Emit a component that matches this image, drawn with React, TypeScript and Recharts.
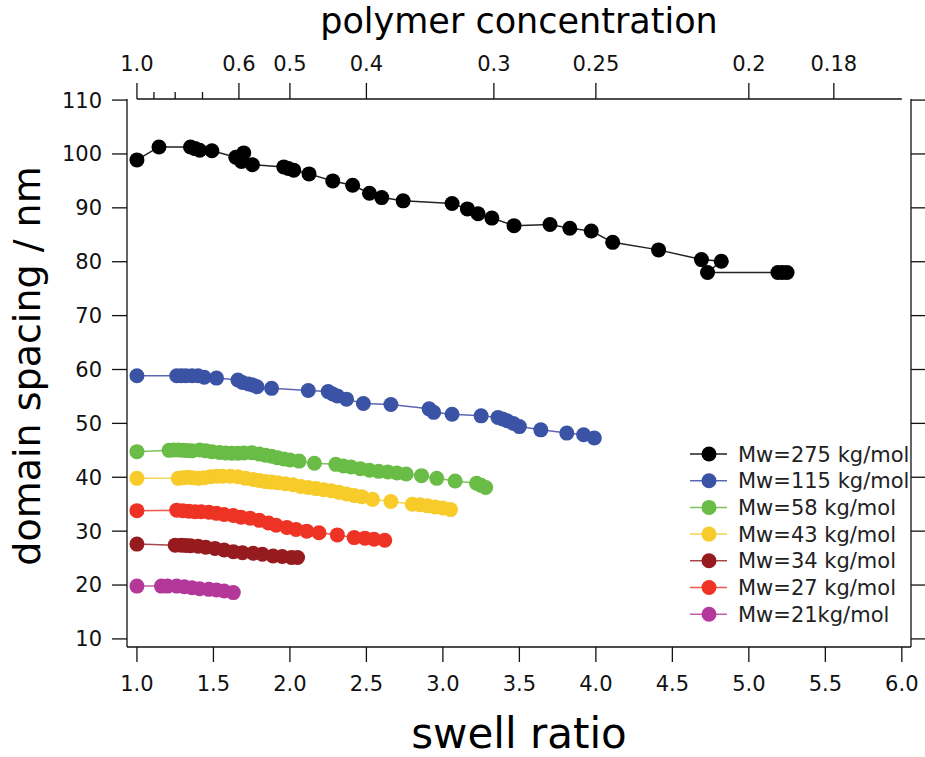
import React from 'react';
import { ScatterChart, Scatter, XAxis, YAxis, ReferenceLine, Legend, Label } from 'recharts';

const FONT = '"DejaVu Sans", Verdana, sans-serif';

// axis ticks
const swellTicks = [1.0, 1.5, 2.0, 2.5, 3.0, 3.5, 4.0, 4.5, 5.0, 5.5, 6.0];
const spacingTicks = [10, 20, 30, 40, 50, 60, 70, 80, 90, 100, 110];
const concMajor = [1.0, 0.6, 0.5, 0.4, 0.3, 0.25, 0.2, 0.18];
const concMajorLabels = ['1.0', '0.6', '0.5', '0.4', '0.3', '0.25', '0.2', '0.18'];
const concMinor = [0.9, 0.8, 0.7];

// Mw = 275 kg/mol
const mw275Swell = [1.0, 1.144, 1.35, 1.38, 1.41, 1.49, 1.646, 1.698, 1.683, 1.755, 1.96, 1.99, 2.025, 2.125, 2.28, 2.41, 2.52, 2.6, 2.74, 3.06, 3.16, 3.23, 3.32, 3.465, 3.7, 3.83, 3.97, 4.11, 4.41, 4.69, 4.82, 4.73, 5.19, 5.22, 5.25];
const mw275Spacing = [98.9, 101.3, 101.3, 101.0, 100.7, 100.6, 99.4, 100.2, 98.6, 98.0, 97.6, 97.3, 97.0, 96.3, 95.0, 94.2, 92.7, 91.9, 91.3, 90.8, 89.8, 88.9, 88.1, 86.7, 86.9, 86.2, 85.7, 83.6, 82.2, 80.4, 80.1, 78.0, 78.0, 78.0, 78.0];

// Mw = 115 kg/mol
const mw115Swell = [1.0, 1.26, 1.29, 1.32, 1.36, 1.4, 1.44, 1.52, 1.66, 1.69, 1.73, 1.76, 1.785, 1.88, 2.12, 2.25, 2.28, 2.31, 2.37, 2.48, 2.66, 2.91, 2.94, 3.06, 3.25, 3.36, 3.39, 3.42, 3.46, 3.5, 3.64, 3.81, 3.92, 3.99];
const mw115Spacing = [58.85, 58.85, 58.85, 58.85, 58.85, 58.85, 58.55, 58.4, 58.05, 57.6, 57.3, 57.1, 56.8, 56.5, 56.1, 55.9, 55.45, 55.1, 54.5, 53.7, 53.5, 52.7, 52.05, 51.7, 51.4, 51.1, 50.8, 50.5, 50.0, 49.4, 48.8, 48.2, 47.9, 47.3];

// Mw = 58 kg/mol
const mw58Swell = [1.0, 1.21, 1.24, 1.27, 1.3, 1.33, 1.36, 1.41, 1.45, 1.49, 1.54, 1.58, 1.62, 1.66, 1.7, 1.75, 1.8, 1.84, 1.88, 1.92, 1.96, 2.0, 2.06, 2.16, 2.3, 2.35, 2.4, 2.46, 2.52, 2.58, 2.64, 2.7, 2.76, 2.86, 2.96, 3.08, 3.22, 3.25, 3.28];
const mw58Spacing = [44.75, 45.0, 45.05, 45.05, 45.0, 44.95, 44.9, 45.05, 44.9, 44.75, 44.6, 44.5, 44.45, 44.45, 44.5, 44.55, 44.3, 44.1, 43.9, 43.6, 43.4, 43.2, 43.0, 42.6, 42.4, 42.1, 41.9, 41.6, 41.3, 41.1, 41.0, 40.8, 40.6, 40.3, 39.8, 39.3, 38.9, 38.5, 38.1];

// Mw = 43 kg/mol
const mw43Swell = [1.0, 1.27, 1.3, 1.33, 1.36, 1.4, 1.44, 1.48, 1.52, 1.56, 1.61, 1.66, 1.71, 1.76, 1.8, 1.84, 1.88, 1.92, 1.97, 2.02, 2.07, 2.12, 2.17, 2.22, 2.27, 2.32, 2.37, 2.42, 2.47, 2.54, 2.66, 2.8, 2.85, 2.9, 2.95, 3.0, 3.05];
const mw43Spacing = [39.8, 39.8, 39.9, 40.0, 39.9, 39.8, 39.9, 40.1, 40.2, 40.2, 40.2, 40.1, 39.8, 39.6, 39.4, 39.2, 39.1, 39.0, 38.8, 38.6, 38.3, 38.1, 37.9, 37.7, 37.5, 37.2, 36.9, 36.6, 36.4, 35.9, 35.5, 35.0, 34.9, 34.7, 34.5, 34.3, 34.0];

// Mw = 34 kg/mol
const mw34Swell = [1.0, 1.25, 1.29, 1.32, 1.35, 1.4, 1.45, 1.51, 1.57, 1.63, 1.69, 1.76, 1.82, 1.89, 1.95, 2.01, 2.05];
const mw34Spacing = [27.6, 27.4, 27.4, 27.35, 27.3, 27.2, 27.0, 26.8, 26.5, 26.2, 26.0, 25.9, 25.7, 25.4, 25.3, 25.1, 25.1];

// Mw = 27 kg/mol
const mw27Swell = [1.0, 1.26, 1.3, 1.34, 1.38, 1.42, 1.47, 1.52, 1.57, 1.63, 1.68, 1.74, 1.8, 1.86, 1.91, 1.98, 2.04, 2.11, 2.19, 2.31, 2.42, 2.49, 2.55, 2.62];
const mw27Spacing = [33.8, 33.9, 33.8, 33.7, 33.6, 33.6, 33.5, 33.3, 33.1, 32.9, 32.6, 32.4, 32.0, 31.5, 31.1, 30.7, 30.3, 30.0, 29.7, 29.3, 28.8, 28.7, 28.5, 28.3];

// Mw = 21 kg/mol
const mw21Swell = [1.0, 1.16, 1.2, 1.26, 1.31, 1.36, 1.41, 1.47, 1.52, 1.57, 1.63];
const mw21Spacing = [19.8, 19.8, 19.8, 19.8, 19.7, 19.5, 19.3, 19.2, 19.1, 18.9, 18.6];

const seriesNames = ['Mw=275 kg/mol', 'Mw=115 kg/mol', 'Mw=58 kg/mol', 'Mw=43 kg/mol', 'Mw=34 kg/mol', 'Mw=27 kg/mol', 'Mw=21kg/mol'];
const seriesSwell = [mw275Swell, mw115Swell, mw58Swell, mw43Swell, mw34Swell, mw27Swell, mw21Swell];
const seriesSpacing = [mw275Spacing, mw115Spacing, mw58Spacing, mw43Spacing, mw34Spacing, mw27Spacing, mw21Spacing];
const dotColors = ['#000000', '#3a53a5', '#69bc45', '#f6cb2a', '#951b1e', '#ee3325', '#b4379a'];
const lineColors = ['#222222', '#5d66b3', '#7dc35c', '#f4d452', '#a8484a', '#f05a4c', '#c25fb0'];

const X_DOMAIN: [number, number] = [0.935, 6.06];
const Y_DOMAIN: [number, number] = [8.5, 110.2];

const series = seriesNames.map((name, i) => ({
  name,
  dot: dotColors[i],
  line: lineColors[i],
  data: seriesSwell[i].map((s, j) => ({ s, v: seriesSpacing[i][j] })),
}));

const AXIS_COLOR = '#111';

const TopTick = (props: any) => {
  const { x, y, payload } = props;
  const idx = concMajor.findIndex((c) => Math.abs(1 / c - payload.value) < 1e-6);
  const major = idx >= 0;
  return (
    <g>
      <line x1={x} x2={x} y1={y} y2={y - (major ? 16 : 7)} stroke={AXIS_COLOR} strokeWidth={1.3} />
      {major && (
        <text x={x} y={y - 28} textAnchor="middle" fontSize={21} fontFamily={FONT} fill="#111">
          {concMajorLabels[idx]}
        </text>
      )}
    </g>
  );
};

const LegendContent = () => (
  <svg width={240} height={190}>
    {series.map((s, i) => {
      const cy = 13 + i * 26.7;
      return (
        <g key={s.name}>
          <line x1={5} x2={42} y1={cy} y2={cy} stroke={s.line} strokeWidth={1.5} />
          <circle cx={24} cy={cy} r={7.5} fill={s.dot} />
          <text x={53} y={cy + 7.5} fontSize={21} fontFamily={FONT} fill="#222">
            {s.name}
          </text>
        </g>
      );
    })}
  </svg>
);

export default function App() {
  const topTicks = [...concMajor, ...concMinor].map((c) => 1 / c);
  return (
    <div style={{ position: 'absolute', left: 0, top: 0, width: 925, height: 757, background: '#fff' }}>
      <ScatterChart width={925} height={757} margin={{ top: 0, right: 0, bottom: 0, left: 0 }}>
        <XAxis
          xAxisId="b"
          type="number"
          dataKey="s"
          orientation="bottom"
          domain={X_DOMAIN}
          allowDataOverflow
          ticks={swellTicks}
          interval={0}
          height={110}
          tickSize={15}
          tickMargin={14}
          tickFormatter={(v: number) => v.toFixed(1)}
          stroke={AXIS_COLOR}
          strokeWidth={1.3}
          tick={{ fontSize: 21, fontFamily: FONT, fill: '#111' }}
        >
          <Label
            value="swell ratio"
            position="insideBottom"
            offset={9}
            style={{ fontSize: 42, fontFamily: FONT, fill: '#000' }}
          />
        </XAxis>
        <XAxis
          xAxisId="t"
          type="number"
          dataKey="s"
          orientation="top"
          domain={X_DOMAIN}
          allowDataOverflow
          ticks={topTicks}
          interval={0}
          height={99}
          tickSize={0}
          tickMargin={0}
          axisLine={false}
          tickLine={false}
          tick={<TopTick />}
        >
          <Label
            value="polymer concentration"
            position="insideTop"
            offset={8}
            style={{ fontSize: 35, fontFamily: FONT, fill: '#000' }}
          />
        </XAxis>
        <YAxis
          yAxisId="l"
          type="number"
          dataKey="v"
          orientation="left"
          domain={Y_DOMAIN}
          allowDataOverflow
          ticks={spacingTicks}
          interval={0}
          width={127}
          tickSize={15}
          tickMargin={10}
          stroke={AXIS_COLOR}
          strokeWidth={1.3}
          tick={{ fontSize: 21, fontFamily: FONT, fill: '#111' }}
        >
          <Label
            value="domain spacing / nm"
            angle={-90}
            position="insideLeft"
            offset={27}
            dy={-7}
            style={{ fontSize: 38, fontFamily: FONT, fill: '#000', textAnchor: 'middle' }}
          />
        </YAxis>
        <YAxis
          yAxisId="r"
          type="number"
          dataKey="v"
          orientation="right"
          domain={Y_DOMAIN}
          allowDataOverflow
          ticks={spacingTicks}
          interval={0}
          width={14}
          tickSize={14}
          tickMargin={0}
          stroke={AXIS_COLOR}
          strokeWidth={1.3}
          tickFormatter={() => ''}
        />
        <ReferenceLine
          xAxisId="b"
          yAxisId="l"
          segment={[{ x: 1, y: Y_DOMAIN[1] }, { x: 6, y: Y_DOMAIN[1] }]}
          stroke={AXIS_COLOR}
          strokeWidth={1.3}
          ifOverflow="visible"
        />
        {series.map((s) => (
          <Scatter
            key={s.name}
            name={s.name}
            data={s.data}
            xAxisId="b"
            yAxisId="l"
            fill={s.dot}
            line={{ stroke: s.line, strokeWidth: 1.5 }}
            isAnimationActive={false}
            shape={(p: any) => <circle cx={p.cx} cy={p.cy} r={7.5} fill={s.dot} />}
          />
        ))}
        <Legend
          layout="vertical"
          align="center"
          verticalAlign="middle"
          wrapperStyle={{ left: 685, top: 441, width: 240, height: 190 }}
          content={<LegendContent />}
        />
      </ScatterChart>
    </div>
  );
}
